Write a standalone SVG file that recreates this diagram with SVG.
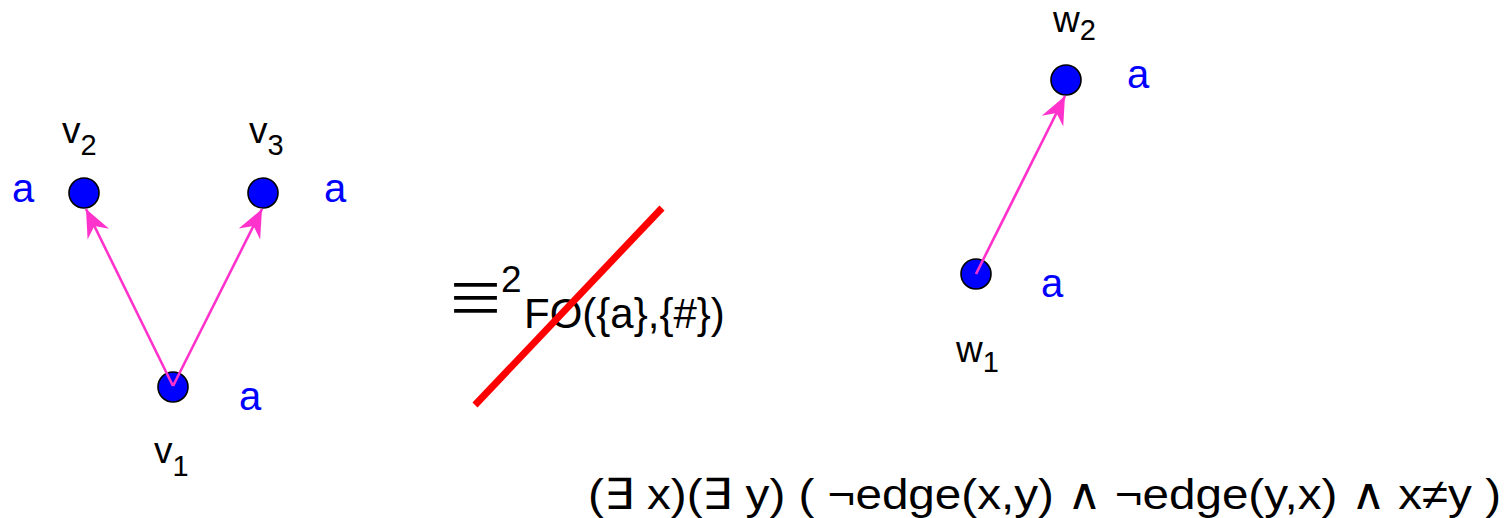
<svg xmlns="http://www.w3.org/2000/svg" width="1510" height="518" viewBox="0 0 1510 518">
<style>
.node{fill:#0000ff;stroke:#000;stroke-width:1.6}
.lbl{font-family:"Liberation Sans",Arial,sans-serif;fill:#000}
.tag{font-family:"Liberation Sans",Arial,sans-serif;fill:#0000ff;font-size:40px}
.edge{stroke:#ff33cc;stroke-width:2.6;fill:none;marker-end:url(#ah)}
</style>
<defs>
<marker id="ah" markerUnits="userSpaceOnUse" viewBox="-30 -13 32 26" refX="0" refY="0" markerWidth="32" markerHeight="26" orient="auto">
<path d="M0,0 L-28,-12 L-19,0 L-28,12 Z" fill="#ff33cc"/>
</marker>
</defs>
<rect width="1510" height="518" fill="#fff"/>
<g id="v1"><circle class="node" cx="173" cy="387" r="15"/><text class="lbl" x="154" y="463" font-size="37">v<tspan font-size="29" dy="13">1</tspan></text><text class="tag" x="239" y="410">a</text></g>
<g id="v2"><circle class="node" cx="84" cy="193" r="15"/><text class="lbl" x="62" y="143" font-size="37">v<tspan font-size="29" dy="12">2</tspan></text><text class="tag" x="12" y="202">a</text></g>
<g id="v3"><circle class="node" cx="263" cy="193" r="15"/><text class="lbl" x="249" y="143" font-size="37">v<tspan font-size="29" dy="12">3</tspan></text><text class="tag" x="324" y="202">a</text></g>
<g id="w1"><circle class="node" cx="976" cy="274" r="15"/><text class="lbl" x="956" y="362" font-size="37">w<tspan font-size="29" dy="10">1</tspan></text><text class="tag" x="1041" y="297">a</text></g>
<g id="w2"><circle class="node" cx="1066" cy="80" r="15"/><text class="lbl" x="1053" y="32" font-size="37">w<tspan font-size="29" dy="8">2</tspan></text><text class="tag" x="1127" y="88">a</text></g>
<g id="connectors">
<line class="edge" x1="173" y1="386" x2="86" y2="209"/>
<line class="edge" x1="173" y1="386" x2="262" y2="209"/>
<line class="edge" x1="976" y1="274" x2="1065" y2="96"/>
</g>
<g id="claim">
<text x="446" y="320" font-size="59" font-family="'Noto Sans CJK JP','DejaVu Sans',sans-serif" fill="#000">≡</text>
<text class="lbl" x="501" y="292" font-size="37">2</text>
<text class="lbl" x="524" y="328" font-size="42">FO({a},{#})</text>
<line x1="475" y1="405" x2="662" y2="208" stroke="#ff0000" stroke-width="7"/>
</g>
<text class="lbl" x="588" y="509" font-size="43" textLength="913" lengthAdjust="spacingAndGlyphs">(∃ x)(∃ y) ( ¬edge(x,y) ∧ ¬edge(y,x) ∧ x≠y )</text>
</svg>
